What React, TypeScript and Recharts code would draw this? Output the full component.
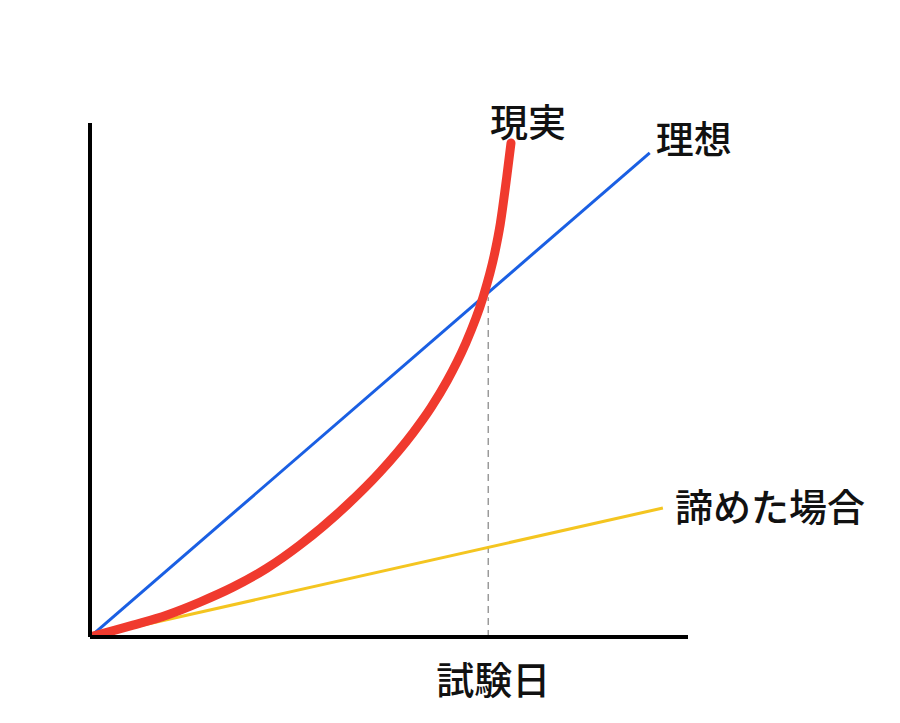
import { LineChart, Line, XAxis, YAxis, ReferenceLine } from 'recharts';

// x: days toward the exam, y: progress (0..100)
const idealX = [0, 93.6];
const idealY = [0, 94.2];
const giveUpX = [0, 95.8];
const giveUpY = [0, 25.1];
const realityX = [0, 7.2, 12.9, 18.4, 23.9, 29.6, 35.1, 43.0, 48.5, 54.0, 57.0, 59.7, 62.7, 65.7, 67.7, 68.6, 69.7, 70.4];
const realityY = [0, 2.3, 4.3, 6.8, 9.7, 13.4, 17.9, 25.7, 32.1, 39.7, 44.6, 49.8, 56.8, 66.0, 74.8, 80.3, 89.6, 96.1];
const examDay = 66.6;
const examLevel = 66.1;
const labels = { ideal: '理想', giveUp: '諦めた場合', reality: '現実', exam: '試験日' };

const toPoints = (xs: number[], ys: number[]) => xs.map((x, i) => ({ x, y: ys[i] }));

const idealData = toPoints(idealX, idealY);
const giveUpData = toPoints(giveUpX, giveUpY);
const realityData = toPoints(realityX, realityY);

const FONT = '"Noto Sans CJK JP", "Noto Sans", sans-serif';

const endLabel = (text: string, last: number, dx: number, dy: number, anchor: string) => (props: any) => {
  if (props.index !== last) return null;
  return (
    <text x={props.x + dx} y={props.y + dy} textAnchor={anchor} dominantBaseline="central"
      fontFamily={FONT} fontSize={38} fontWeight={500} fill="#111">{text}</text>
  );
};

const ExamTick = (props: any) => (
  <text x={props.x + 5} y={677} textAnchor="middle" dominantBaseline="central"
    fontFamily={FONT} fontSize={38} fontWeight={500} fill="#111">{labels.exam}</text>
);

export default function App() {
  return (
    <div style={{ position: 'absolute', left: 0, top: 0, width: 900, height: 723, background: '#fff' }}>
      <LineChart width={900} height={723} margin={{ top: 123, right: 212, bottom: 85, left: 89 }}>
        <XAxis type="number" dataKey="x" domain={[0, 100]} height={1} ticks={[examDay]}
          tick={<ExamTick />} tickLine={false} axisLine={{ stroke: '#000', strokeWidth: 4 }}
          allowDataOverflow interval={0} />
        <YAxis type="number" dataKey="y" domain={[0, 100]} width={1} tick={false} tickLine={false}
          axisLine={{ stroke: '#000', strokeWidth: 4 }} allowDataOverflow />
        <ReferenceLine segment={[{ x: examDay, y: 0 }, { x: examDay, y: examLevel }]}
          stroke="#9a9a9a" strokeWidth={1.5} strokeDasharray="7 5" />
        <Line data={giveUpData} dataKey="y" type="linear" stroke="#F4C520" strokeWidth={3} dot={false}
          isAnimationActive={false}
          label={endLabel(labels.giveUp, giveUpData.length - 1, 12, -3, 'start')} />
        <Line data={idealData} dataKey="y" type="linear" stroke="#1A5FE3" strokeWidth={3} dot={false}
          isAnimationActive={false}
          label={endLabel(labels.ideal, idealData.length - 1, 6, -16, 'start')} />
        <Line data={realityData} dataKey="y" type="monotone" stroke="#F03A2E" strokeWidth={9} dot={false}
          strokeLinecap="round" isAnimationActive={false}
          label={endLabel(labels.reality, realityData.length - 1, 17, -24, 'middle')} />
      </LineChart>
    </div>
  );
}
